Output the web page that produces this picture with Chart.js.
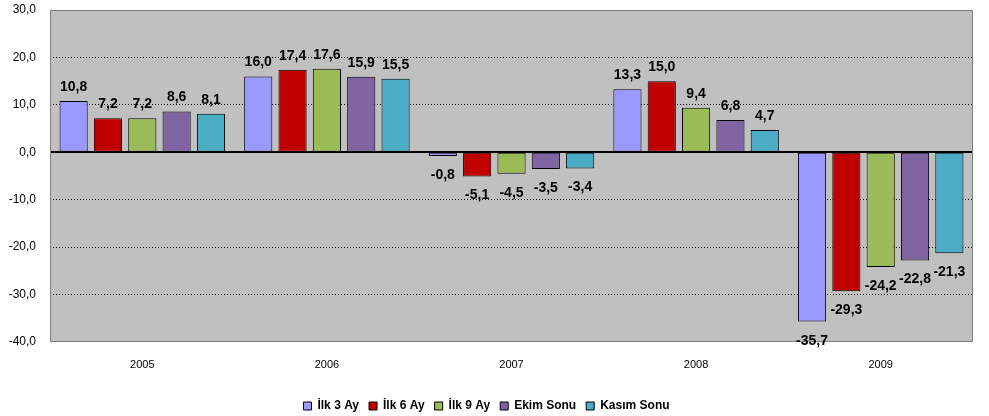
<!DOCTYPE html>
<html>
<head>
<meta charset="utf-8">
<script src="https://cdn.jsdelivr.net/npm/chart.js@4.4.0/dist/chart.umd.min.js"></script>
<style>
  body { margin: 0; background: #fff; }
  #wrap { width: 989px; height: 416px; }
</style>
</head>
<body>
<div id="wrap"><canvas id="myChart" width="989" height="416"></canvas></div>
<script>
// years on the x axis
const years = ['2005', '2006', '2007', '2008', '2009'];

// one array per period
const ilk3Ay = [10.8, 16.0, -0.8, 13.3, -35.7];
const ilk6Ay = [7.2, 17.4, -5.1, 15.0, -29.3];
const ilk9Ay = [7.2, 17.6, -4.5, 9.4, -24.2];
const ekimSonu = [8.6, 15.9, -3.5, 6.8, -22.8];
const kasimSonu = [8.1, 15.5, -3.4, 4.7, -21.3];

const seriesNames = ['İlk 3 Ay', 'İlk 6 Ay', 'İlk 9 Ay', 'Ekim Sonu', 'Kasım Sonu'];
const seriesColors = ['#9999FF', '#C00000', '#9BBB59', '#8064A2', '#4BACC6'];

const yTicks = { min: -40, max: 30, step: 10 };

const fmt = v => v.toFixed(1).replace('.', ',');

// gray plot area, border and the solid zero line
const plotFrame = {
    id: 'plotFrame',
    beforeDraw(chart) {
        const { ctx, chartArea: a } = chart;
        ctx.save();
        ctx.fillStyle = '#C0C0C0';
        ctx.fillRect(a.left, a.top, a.right - a.left, a.bottom - a.top);
        ctx.restore();
    },
    afterDatasetsDraw(chart) {
        const { ctx, chartArea: a, scales } = chart;
        const y0 = Math.round(scales.y.getPixelForValue(0));
        ctx.save();
        ctx.strokeStyle = '#000';
        ctx.lineWidth = 2;
        ctx.beginPath();
        ctx.moveTo(a.left, y0);
        ctx.lineTo(a.right, y0);
        ctx.stroke();
        ctx.strokeStyle = '#808080';
        ctx.lineWidth = 1;
        ctx.strokeRect(a.left + 0.5, a.top + 0.5, a.right - a.left - 1, a.bottom - a.top - 1);
        ctx.restore();
    }
};

// value labels above / below each bar
const valueLabels = {
    id: 'valueLabels',
    afterDatasetsDraw(chart) {
        const ctx = chart.ctx;
        ctx.save();
        ctx.font = 'bold 14px "Liberation Sans", Arial, sans-serif';
        ctx.fillStyle = '#000';
        ctx.textAlign = 'center';
        ctx.textBaseline = 'alphabetic';
        chart.data.datasets.forEach((ds, i) => {
            chart.getDatasetMeta(i).data.forEach((bar, j) => {
                const v = ds.data[j];
                const y = v >= 0 ? bar.y - 10 : bar.y + 23;
                ctx.fillText(fmt(v), bar.x, y);
            });
        });
        ctx.restore();
    }
};

const seriesData = [ilk3Ay, ilk6Ay, ilk9Ay, ekimSonu, kasimSonu];

const ctx = document.getElementById('myChart').getContext('2d');
const myChart = new Chart(ctx, {
    type: 'bar',
    data: {
        labels: years,
        datasets: seriesData.map((d, i) => ({
            label: seriesNames[i],
            data: d,
            backgroundColor: seriesColors[i],
            borderColor: '#000',
            borderWidth: 1,
            borderSkipped: false,
            categoryPercentage: 0.93,
            barPercentage: 0.82
        }))
    },
    options: {
        responsive: false,
        animation: false,
        layout: { padding: { top: 10, right: 16, left: 0, bottom: -6 } },
        plugins: {
            tooltip: { enabled: false },
            legend: {
                position: 'bottom',
                labels: {
                    boxWidth: 8,
                    boxHeight: 8,
                    padding: 10,
                    color: '#000',
                    font: { family: '"Liberation Sans", Arial, sans-serif', size: 12, weight: 'bold' }
                }
            }
        },
        scales: {
            x: {
                grid: { display: false, drawTicks: false },
                border: { display: false },
                ticks: {
                    padding: 16,
                    color: '#000',
                    font: { family: '"Liberation Sans", Arial, sans-serif', size: 11 }
                },
                afterFit: s => { s.height = 48; }
            },
            y: {
                min: yTicks.min,
                max: yTicks.max,
                ticks: {
                    stepSize: yTicks.step,
                    padding: 14,
                    color: '#000',
                    font: { family: '"Liberation Sans", Arial, sans-serif', size: 12 },
                    callback: v => fmt(v)
                },
                grid: {
                    drawTicks: false,
                    color: c => (c.tick.value === 0 || c.tick.value === yTicks.min || c.tick.value === yTicks.max) ? 'rgba(0,0,0,0)' : '#000',
                    lineWidth: 1
                },
                border: { display: false, dash: [1, 2] },
                afterFit: s => {
                    s.width = 50;
                    s.paddingTop = 0;
                    s.paddingBottom = 0;
                }
            }
        }
    },
    plugins: [plotFrame, valueLabels]
});
</script>
</body>
</html>
